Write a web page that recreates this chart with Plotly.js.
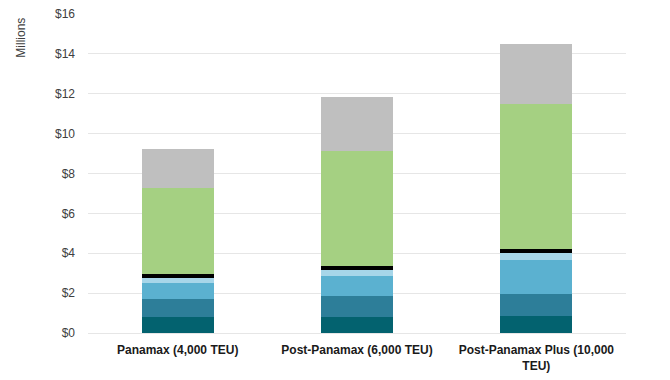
<!DOCTYPE html>
<html>
<head>
<meta charset="utf-8">
<script src="https://cdn.plot.ly/plotly-3.0.1.min.js"></script>
<style>html,body{margin:0;padding:0;background:#fff;}#chart{width:670px;height:380px;}</style>
</head>
<body>
<div id="chart"></div>
<script>
const categories = ["Panamax (4,000 TEU)", "Post-Panamax (6,000 TEU)", "Post-Panamax Plus (10,000<br>TEU)"];
const seg1 = [0.82, 0.82, 0.85];
const seg2 = [0.90, 1.04, 1.11];
const seg3 = [0.80, 1.00, 1.70];
const seg4 = [0.25, 0.30, 0.35];
const seg5 = [0.17, 0.18, 0.20];
const seg6 = [4.34, 5.79, 7.27];
const seg7 = [1.94, 2.69, 3.01];
const seriesNames = ["Segment 1", "Segment 2", "Segment 3", "Segment 4", "Segment 5", "Segment 6", "Segment 7"];
const seriesColors = ["#03626F", "#2D7E99", "#5BB1D0", "#A7D6E9", "#000000", "#A5D082", "#BFBFBF"];
const tickVals = [0, 2, 4, 6, 8, 10, 12, 14, 16];
const tickText = ["$0", "$2", "$4", "$6", "$8", "$10", "$12", "$14", "$16"];

const allSeries = [seg1, seg2, seg3, seg4, seg5, seg6, seg7];
const traces = allSeries.map((vals, i) => ({
  type: "bar",
  x: categories,
  y: vals,
  name: seriesNames[i],
  marker: { color: seriesColors[i], line: { width: 0 } },
  hoverinfo: "y+name"
}));

const fam = "Liberation Sans, Arial, sans-serif";

const layout = {
  width: 670, height: 380,
  margin: { l: 88, r: 44, t: 14, b: 47 },
  barmode: "stack",
  bargap: 0.6,
  showlegend: false,
  paper_bgcolor: "#ffffff",
  plot_bgcolor: "#ffffff",
  font: { family: fam, color: "#404040" },
  xaxis: {
    type: "category",
    showgrid: false,
    showline: false,
    zeroline: false,
    ticks: "",
    ticklabelstandoff: 8,
    tickfont: { size: 12, color: "#1a1a1a", family: fam, weight: "bold" }
  },
  yaxis: {
    range: [0, 16],
    tickvals: tickVals,
    ticktext: tickText,
    showgrid: true,
    gridcolor: "#e6e6e6",
    gridwidth: 1,
    zeroline: true,
    zerolinecolor: "#e6e6e6",
    zerolinewidth: 1,
    showline: false,
    ticks: "",
    ticklabelstandoff: 12,
    tickfont: { size: 12, color: "#404040", family: fam }
  },
  annotations: [{
    text: "Millions",
    xref: "paper", yref: "paper",
    x: -0.125, y: 0.925,
    xanchor: "center", yanchor: "middle",
    showarrow: false,
    textangle: -90,
    font: { size: 12, color: "#404040", family: fam }
  }]
};

Plotly.newPlot("chart", traces, layout, { displayModeBar: false, staticPlot: true });
</script>
</body>
</html>
